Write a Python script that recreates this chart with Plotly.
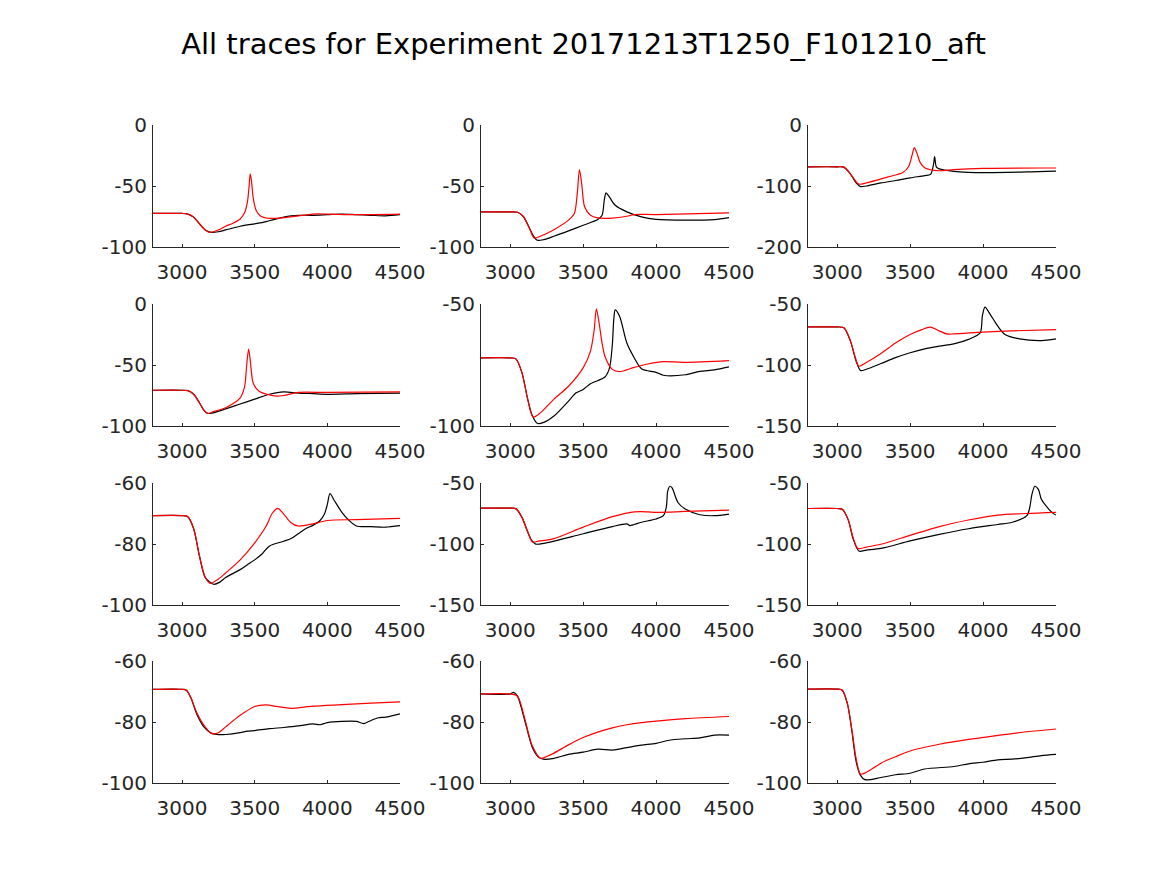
import plotly.graph_objects as go

# x range shared by all panels
X_RANGE = [2800, 4500]
X_TICKS = [3000, 3500, 4000, 4500]

# y ranges and y ticks per panel (row, col)
y_ranges = {
    (1, 1): [-100, 0], (1, 2): [-100, 0], (1, 3): [-200, 0],
    (2, 1): [-100, 0], (2, 2): [-100, -50], (2, 3): [-150, -50],
    (3, 1): [-100, -60], (3, 2): [-150, -50], (3, 3): [-150, -50],
    (4, 1): [-100, -60], (4, 2): [-100, -60], (4, 3): [-100, -60],
}
y_ticks = {
    (1, 1): [-100, -50, 0], (1, 2): [-100, -50, 0], (1, 3): [-200, -100, 0],
    (2, 1): [-100, -50, 0], (2, 2): [-100, -50], (2, 3): [-150, -100, -50],
    (3, 1): [-100, -80, -60], (3, 2): [-150, -100, -50], (3, 3): [-150, -100, -50],
    (4, 1): [-100, -80, -60], (4, 2): [-100, -80, -60], (4, 3): [-100, -80, -60],
}

# panel 1,1
t11_k = [2800, 3000, 3040, 3080, 3120, 3160, 3200, 3250, 3300, 3400, 3500, 3550, 3600,
         3650, 3700, 3750, 3800, 3900, 4000, 4100, 4200, 4300, 4400, 4500]
v11_k = [-72.5, -72.5, -73, -75.5, -81, -86, -88, -87.5, -86, -83, -81, -80, -78.5,
         -77, -75.5, -74.5, -74, -74, -73.5, -73, -73.5, -74, -74.5, -73.5]
t11_r = [2800, 3000, 3040, 3080, 3120, 3160, 3190, 3250, 3300, 3350, 3400, 3430, 3450,
         3460, 3469, 3478, 3490, 3510, 3540, 3600, 3650, 3700, 3800, 3900, 4000, 4200, 4500]
v11_r = [-72.5, -72.5, -73, -75.5, -81, -86, -88, -86, -83, -80.5, -77, -72, -63,
         -52, -40, -46, -60, -70, -74.5, -76.5, -76.5, -76, -74.5, -73, -73, -73.5, -73]

# panel 1,2
t12_k = [2800, 3000, 3050, 3090, 3130, 3160, 3186, 3230, 3300, 3400, 3500, 3600, 3630,
         3645, 3657, 3680, 3720, 3800, 3900, 4000, 4200, 4400, 4500]
v12_k = [-71.2, -71.2, -71.5, -75, -84, -91, -94.5, -94, -91.2, -86.8, -82.2, -77.5, -74,
         -61.6, -55.6, -59, -65.8, -71.2, -75.3, -77.3, -78, -77.5, -75.9]
t12_r = [2800, 3000, 3050, 3090, 3130, 3164, 3210, 3300, 3400, 3440, 3460, 3475, 3490,
         3510, 3550, 3600, 3700, 3800, 3850, 4000, 4500]
v12_r = [-71.2, -71.2, -71.5, -75, -84, -92.6, -91, -85.8, -78, -72.6, -56, -36.5, -48,
         -67, -74, -76.2, -76.4, -74.8, -73.4, -73.4, -72]

# panel 1,3
t13_k = [2800, 3000, 3046, 3090, 3130, 3160, 3200, 3300, 3400, 3500, 3600, 3640, 3660,
         3668, 3680, 3700, 3800, 3900, 4000, 4300, 4500]
v13_k = [-68.5, -68.5, -69, -80, -95, -101, -100, -95, -91, -86.6, -83, -81, -65,
         -52, -69, -72, -76, -77.5, -78, -77, -75.5]
t13_r = [2800, 3000, 3046, 3090, 3130, 3150, 3200, 3350, 3450, 3490, 3515, 3529, 3545,
         3570, 3600, 3700, 3800, 4000, 4500]
v13_r = [-68.5, -68.5, -69, -80, -93, -97, -95, -85, -78, -68, -48, -37, -45,
         -62, -70, -75, -73, -71, -70.5]

# panel 2,1
t21_k = [2800, 3000, 3040, 3080, 3120, 3150, 3176, 3220, 3300, 3400, 3500, 3600, 3700,
         3800, 3900, 4000, 4200, 4500]
v21_k = [-70.7, -70.7, -71, -74, -81, -87, -89.7, -89, -86, -82, -78, -74, -72,
         -73, -73.5, -74, -73.5, -73]
t21_r = [2800, 3000, 3040, 3080, 3120, 3150, 3176, 3220, 3300, 3400, 3430, 3445, 3458,
         3470, 3490, 3530, 3600, 3650, 3700, 3800, 4000, 4500]
v21_r = [-70.7, -70.7, -71, -74, -81, -87, -89.7, -88, -85, -77, -68, -50, -37,
         -47, -65, -71.5, -74.5, -75.5, -75, -72.5, -72.5, -72]

# panel 2,2
t22_k = [2800, 3000, 3039, 3080, 3120, 3150, 3186, 3230, 3300, 3400, 3450, 3500, 3550,
         3650, 3680, 3700, 3710, 3720, 3750, 3800, 3850, 3900, 4000, 4050, 4200, 4300,
         4400, 4500]
v22_k = [-72.1, -72.1, -72.5, -78, -89, -95.5, -98.9, -98.5, -95.9, -89.8, -86.5, -85, -82.7,
         -79.9, -76.4, -67, -56.5, -52.4, -55, -66, -72, -76.5, -78, -79.2, -79, -77.6,
         -77, -75.8]
t22_r = [2800, 3000, 3039, 3080, 3120, 3157, 3200, 3300, 3400, 3500, 3550, 3575, 3591,
         3610, 3630, 3650, 3700, 3750, 3850, 3950, 4050, 4200, 4500]
v22_r = [-72.1, -72.1, -72.5, -78, -89, -96.3, -95, -89, -83.7, -76.2, -69.4, -61, -52,
         -58, -66, -71.5, -76.8, -77.7, -76, -74.5, -73.6, -73.9, -73.2]

# panel 2,3
t23_k = [2800, 3000, 3046, 3090, 3130, 3160, 3200, 3300, 3400, 3500, 3600, 3700, 3800,
         3900, 3980, 3995, 4013, 4050, 4100, 4150, 4250, 4400, 4500]
v23_k = [-68.8, -68.8, -69.5, -80, -97, -104.5, -103.5, -98.8, -94, -90, -86.8, -84.6, -82.7,
         -79, -73.7, -60, -52.5, -58.7, -68, -75, -78.6, -80, -78.6]
t23_r = [2800, 3000, 3046, 3090, 3130, 3149, 3200, 3300, 3400, 3500, 3580, 3638, 3700,
         3750, 3800, 4000, 4200, 4500]
v23_r = [-68.8, -68.8, -69.5, -80, -96, -101, -98, -90.6, -82, -75, -71, -69, -72,
         -74.5, -74.5, -73, -72, -71]

# panel 3,1
t31_k = [2800, 3000, 3038, 3080, 3120, 3160, 3217, 3260, 3300, 3400, 3450, 3500, 3550,
         3600, 3700, 3750, 3800, 3850, 3900, 3950, 3980, 4000, 4018, 4050, 4100, 4150,
         4200, 4300, 4400, 4500]
v31_k = [-70.7, -70.7, -71, -75, -84, -91, -93.2, -92.5, -91, -88.4, -86.8, -85.2, -83.3,
         -80.7, -79.1, -78.2, -76.6, -75, -73.9, -72.3, -70.2, -67, -63.5, -65.9, -69.6, -72.3,
         -74.1, -74.3, -74.5, -74]
t31_r = [2800, 3000, 3038, 3080, 3120, 3160, 3194, 3250, 3300, 3400, 3500, 3580, 3620,
         3659, 3700, 3750, 3800, 3900, 4000, 4200, 4500]
v31_r = [-70.7, -70.7, -71, -75, -84, -91, -92.9, -91.5, -89.5, -85.2, -79.6, -74, -70,
         -68.3, -70.2, -73, -74.1, -73.4, -72.3, -72, -71.6]

# panel 3,2
t32_k = [2800, 3000, 3039, 3080, 3120, 3150, 3175, 3230, 3300, 3500, 3700, 3800, 3820,
         3850, 3900, 4000, 4050, 4070, 4080, 4095, 4110, 4150, 4200, 4300, 4400, 4500]
v32_k = [-70.6, -70.6, -71, -78, -90, -97.5, -100.1, -99.5, -97.7, -91.6, -85.7, -83.5, -84.9,
         -84, -82.2, -79.5, -76.8, -70, -56.7, -52.7, -54, -66, -71.4, -76, -76.8, -75.5]
t32_r = [2800, 3000, 3039, 3080, 3120, 3152, 3200, 3300, 3500, 3700, 3850, 3900, 4000,
         4100, 4200, 4500]
v32_r = [-70.6, -70.6, -71, -78, -90, -98.3, -97.5, -95.6, -86.2, -77.6, -73.6, -73.4, -74.1,
         -73.8, -73.3, -72.3]

# panel 3,3
t33_k = [2800, 3000, 3035, 3075, 3110, 3149, 3200, 3300, 3500, 3700, 3900, 4100, 4200,
         4300, 4320, 4335, 4355, 4380, 4400, 4450, 4480, 4500]
v33_k = [-70.9, -70.9, -71.5, -80, -96, -105.8, -105, -103.6, -97.5, -92.1, -87.5, -84, -82.2,
         -76.8, -70.1, -59.4, -52.7, -55.4, -63.4, -71.4, -74.9, -76.3]
t33_r = [2800, 3000, 3035, 3075, 3110, 3142, 3200, 3300, 3500, 3700, 3900, 4100, 4300,
         4500]
v33_r = [-70.9, -70.9, -71.5, -80, -95, -103.6, -102.5, -100.2, -92.9, -85.7, -80.3, -76.3, -75,
         -74.1]

# panel 4,1
t41_k = [2800, 3000, 3030, 3060, 3100, 3150, 3200, 3240, 3300, 3400, 3450, 3500, 3600,
         3700, 3800, 3900, 3950, 4000, 4100, 4200, 4250, 4300, 4350, 4400, 4500]
v41_k = [-69.3, -69.3, -69.6, -72, -77.3, -81.6, -83.6, -84.1, -84.1, -83.5, -83, -82.8, -82.2,
         -81.8, -81.3, -80.6, -80.9, -80.2, -79.8, -79.8, -80.5, -79.5, -78.6, -78.4, -77.3]
t41_r = [2800, 3000, 3030, 3060, 3100, 3150, 3205, 3250, 3300, 3400, 3500, 3580, 3650,
         3750, 3900, 4100, 4300, 4500]
v41_r = [-69.3, -69.3, -69.6, -72, -76.8, -81, -83.8, -83.5, -81.6, -77.8, -74.9, -74.4, -74.9,
         -75.5, -74.8, -74.3, -73.8, -73.4]

# panel 4,2
t42_k = [2800, 3000, 3023, 3050, 3100, 3150, 3190, 3227, 3300, 3400, 3500, 3600, 3700,
         3800, 3900, 4000, 4100, 4200, 4300, 4400, 4500]
v42_k = [-70.8, -70.8, -70.3, -71.5, -79.5, -88.1, -91.3, -92.2, -91.9, -90.6, -89.9, -88.9, -89.2,
         -88.4, -87.6, -87, -85.9, -85.5, -85.2, -84.3, -84.3]
t42_r = [2800, 3000, 3050, 3100, 3150, 3209, 3250, 3300, 3400, 3500, 3600, 3700, 3800,
         3900, 4000, 4200, 4500]
v42_r = [-70.8, -70.8, -71.5, -78.9, -87.6, -91.9, -91.3, -90.2, -87.5, -85.1, -83.3, -81.9, -80.9,
         -80.2, -79.7, -78.9, -78.2]

# panel 4,3
t43_k = [2800, 3000, 3035, 3070, 3100, 3130, 3160, 3190, 3300, 3400, 3500, 3600, 3800,
         3900, 4000, 4100, 4200, 4300, 4400, 4500]
v43_k = [-69.2, -69.2, -69.6, -74, -82.7, -93, -97.5, -98.9, -98.2, -97.3, -96.8, -95.4, -94.6,
         -93.7, -93.2, -92.4, -92.2, -91.7, -91, -90.6]
t43_r = [2800, 3000, 3035, 3070, 3100, 3130, 3160, 3200, 3300, 3400, 3500, 3700, 3900,
         4100, 4300, 4500]
v43_r = [-69.2, -69.2, -69.6, -74, -82.2, -92, -97.1, -96.5, -93.5, -91.4, -89.5, -87.3, -85.7,
         -84.4, -83.2, -82.3]

traces = {
    (1, 1): (t11_k, v11_k, t11_r, v11_r), (1, 2): (t12_k, v12_k, t12_r, v12_r),
    (1, 3): (t13_k, v13_k, t13_r, v13_r), (2, 1): (t21_k, v21_k, t21_r, v21_r),
    (2, 2): (t22_k, v22_k, t22_r, v22_r), (2, 3): (t23_k, v23_k, t23_r, v23_r),
    (3, 1): (t31_k, v31_k, t31_r, v31_r), (3, 2): (t32_k, v32_k, t32_r, v32_r),
    (3, 3): (t33_k, v33_k, t33_r, v33_r), (4, 1): (t41_k, v41_k, t41_r, v41_r),
    (4, 2): (t42_k, v42_k, t42_r, v42_r), (4, 3): (t43_k, v43_k, t43_r, v43_r),
}

W, H = 1167, 875
# axes box positions in pixels (left, right) and (top, bottom)
col_px = [(153, 400), (481, 729), (808, 1056)]
row_px = [(125, 247), (304, 426), (483, 605), (661, 783)]

AXIS_COLOR = "#262626"
FONT = dict(family="DejaVu Sans", size=20, color=AXIS_COLOR)

fig = go.Figure()
layout = {}
n = 0
for r in range(1, 5):
    for c in range(1, 4):
        n += 1
        xa = "xaxis" if n == 1 else f"xaxis{n}"
        ya = "yaxis" if n == 1 else f"yaxis{n}"
        xref = "x" if n == 1 else f"x{n}"
        yref = "y" if n == 1 else f"y{n}"
        tk, vk, tr, vr = traces[(r, c)]
        fig.add_trace(go.Scatter(x=tk, y=vk, mode="lines", xaxis=xref, yaxis=yref,
                                 line=dict(color="black", width=1.2, shape="spline", smoothing=0.8),
                                 showlegend=False, hoverinfo="skip"))
        fig.add_trace(go.Scatter(x=tr, y=vr, mode="lines", xaxis=xref, yaxis=yref,
                                 line=dict(color="red", width=1.2, shape="spline", smoothing=0.8),
                                 showlegend=False, hoverinfo="skip"))
        x0, x1 = col_px[c - 1]
        y0, y1 = row_px[r - 1]
        common = dict(showline=True, linecolor=AXIS_COLOR, linewidth=1, mirror=False,
                      showgrid=False, zeroline=False, ticks="inside", ticklen=3,
                      tickcolor=AXIS_COLOR, tickfont=FONT, fixedrange=True,
                      automargin=False)
        layout[xa] = dict(common, domain=[x0 / W, x1 / W], range=X_RANGE,
                          tickvals=X_TICKS, ticktext=[str(v) for v in X_TICKS],
                          anchor=yref, ticklabelstandoff=7)
        yt = y_ticks[(r, c)]
        layout[ya] = dict(common, domain=[1 - y1 / H, 1 - y0 / H], range=y_ranges[(r, c)],
                          tickvals=yt, ticktext=[str(v) for v in yt], anchor=xref,
                          ticklabelstandoff=1)

fig.update_layout(**layout)
fig.update_layout(
    width=W, height=H,
    template="none",
    margin=dict(l=0, r=0, t=0, b=0, autoexpand=False),
    paper_bgcolor="white", plot_bgcolor="white",
    title=dict(text="All traces for Experiment 20171213T1250_F101210_aft",
               x=0.5, xanchor="center", y=1 - 44 / H, yanchor="middle",
               yref="container", font=dict(family="DejaVu Sans", size=29, color="black")),
)
fig.write_html("out.html", config={"displayModeBar": False},
               post_script="document.body.style.margin='0px';")
